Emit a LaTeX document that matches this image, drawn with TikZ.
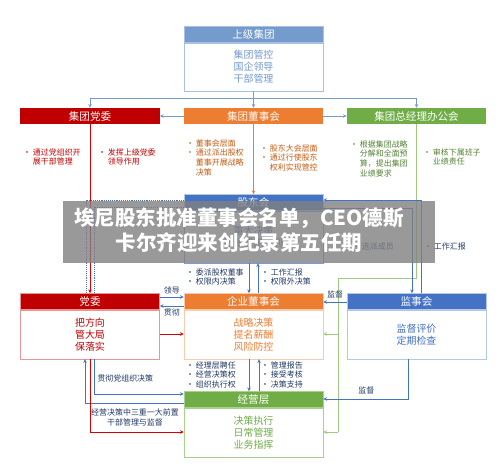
\documentclass[tikz,border=0pt]{standalone}
\usepackage{fontspec}
\setmainfont{Noto Sans CJK SC}
\usetikzlibrary{arrows.meta}
\definecolor{topblue}{RGB}{117,155,205}
\definecolor{topline}{RGB}{169,192,228}
\definecolor{dred}{RGB}{192,0,0}
\definecolor{lred}{RGB}{235,150,150}
\definecolor{dorange}{RGB}{237,125,49}
\definecolor{torange}{RGB}{197,90,17}
\definecolor{lorange}{RGB}{248,203,173}
\definecolor{dgreen}{RGB}{112,173,71}
\definecolor{tgreen}{RGB}{84,130,53}
\definecolor{lgreen}{RGB}{169,209,142}
\definecolor{dblue}{RGB}{68,114,196}
\definecolor{lblue}{RGB}{180,199,231}
\definecolor{navy}{RGB}{32,56,100}
\definecolor{bangray}{RGB}{128,128,128}
\newcommand{\blist}[1]{\begin{tabular}{@{}p{2.9mm}@{}l@{}}#1\end{tabular}}
\tikzset{
  head/.style={minimum width=4.17cm,minimum height=0.48cm,inner sep=0pt,
    text=white,font=\fontsize{9}{10}\selectfont},
  body/.style={minimum width=4.17cm,inner sep=0pt,align=center,anchor=north,
    fill=white,font=\fontsize{8.5}{10.4}\selectfont},
  bul/.style={anchor=north west,inner sep=0pt,font=\fontsize{6.8}{8.3}\selectfont},
  lbl/.style={text=navy,inner sep=1pt,font=\fontsize{6.8}{8.3}\selectfont,align=center},
  bline/.style={draw=dblue,line width=0.6pt},
  tline/.style={draw=topblue,line width=0.6pt},
  rline/.style={draw=red!85!black,line width=0.6pt},
  oline/.style={draw=dorange,line width=0.6pt},
  gline/.style={draw=lgreen!80!dgreen,line width=0.6pt}
}
\begin{document}
\begin{tikzpicture}[x=0.03cm,y=-0.03cm,>={Stealth[length=3.2pt,width=3pt]}]
\useasboundingbox (0,0) rectangle (500,465);
% upper level
\node(sj) at (253.5,34.5)[head,fill=topblue,draw=topline]{上级集团};
\node(sjb) at (sj.south)[body,draw=topline,text=topblue,minimum height=1.44cm]{集团管控\\国企领导\\干部管理};
\node(jdw) at (90,116)[head,fill=dred]{集团党委};
\node(jdsh) at (253.5,116)[head,fill=dorange]{集团董事会};
\node(jzj) at (416.5,116)[head,fill=dgreen]{集团总经理办公会};
% middle
\node(gdh) at (253.5,202.5)[head,fill=dblue,draw=lblue]{股东会};
\node(gdhb) at (gdh.south)[body,draw=dblue!70,text=dblue,minimum height=1.56cm]{重大决策\\行使股东权利};
% company level
\node(dw) at (90,301.5)[head,fill=dred,draw=lred]{党委};
\node(dwb) at (dw.south)[body,draw=lred,text=dred,minimum height=1.47cm]{把方向\\管大局\\保落实};
\node(qdsh) at (253.5,301.5)[head,fill=dorange,draw=lorange]{企业董事会};
\node(qdshb) at (qdsh.south)[body,draw=lorange,text=dorange,minimum height=1.47cm]{战略决策\\提名薪酬\\风险防控};
\node(jsh) at (416.5,301.5)[head,fill=dblue,draw=lblue]{监事会};
\node(jshb) at (jsh.south)[body,draw=lblue,text=dblue,minimum height=1.47cm]{监督评价\\定期检查};
\node(jyc) at (253.5,399.5)[head,fill=dgreen,draw=lgreen]{经营层};
\node(jycb) at (jyc.south)[body,draw=lgreen,text=dgreen,minimum height=1.47cm]{决策执行\\日常管理\\业务指挥};
% bullets
\node(b1) at (23,148)[bul,text=dred]{\blist{•&通过党组织开\\&展干部管理}};
\node(b2) at (98,148)[bul,text=dred]{\blist{•&发挥上级党委\\&领导作用}};
\node(b3) at (186,139)[bul,text=torange]{\blist{•&董事会层面\\•&通过派出股权\\&董事开展战略\\&决策}};
\node(b4) at (260,144)[bul,text=torange]{\blist{•&股东大会层面\\•&通过行使股东\\&权利实现管控}};
\node(b5) at (350,140)[bul,text=tgreen]{\blist{•&根据集团战略\\&分解和全面预\\&算，提出集团\\&业绩要求}};
\node(b6) at (423,148)[bul,text=tgreen]{\blist{•&审核下属班子\\&业绩责任}};
\node(b7) at (352,242)[bul,text=navy]{\blist{•&选派成员}};
\node(b8) at (424,242)[bul,text=navy]{\blist{•&工作汇报}};
\node(b9) at (186,268)[bul,text=navy]{\blist{•&委派股权董事\\•&权限内决策}};
\node(b10) at (261,268)[bul,text=navy]{\blist{•&工作汇报\\•&权限外决策}};
\node(b11) at (186,361)[bul,text=navy]{\blist{•&经理层聘任\\•&经营决策权\\•&组织执行权}};
\node(b12) at (261,361)[bul,text=navy]{\blist{•&管理报告\\•&接受考核\\•&决策支持}};
% connectors, top
\coordinate(tbus) at (253.5,98);
\draw[tline,->] (sjb.south) -- (jdsh.north);
\draw[tline,->] (tbus) -| (jdw.north);
\draw[tline,->] (tbus) -| (jzj.north);
\draw[tline,->] (jdsh.west) -- (jdw.east);
\draw[tline,->] (jdsh.east) -- (jzj.west);
\draw[rline,->] (jdw.south) -- (dw.north);
\draw[oline,->] (jdsh.south) -- (gdh.north);
% green bus
\coordinate(gbus) at (338,278);
\draw[gline] (jzj.south) |- (gbus) -- (gbus |- 0,432);
\draw[gline,->] (gbus |- 0,334) -- (qdshb.east |- 0,334);
\draw[gline,->] (gbus |- 0,432) -- (jycb.east |- 0,432);
% shareholders
\draw[bline,->] (jsh.north -| 421,0) |- (gdh.east |- 0,200);
\draw[bline,->] (gdh.east |- 0,208) -| (jsh.north -| 412,0);
\draw[bline,densely dotted] (gdh.west |- 0,200) -| (dw.north -| 86,0);
\draw[bline,densely dotted] (gdh.west |- 0,207) -| (dw.north -| 94,0);
\draw[bline,->] (gdhb.south -| 249,0) -- (qdsh.north -| 249,0);
\draw[bline,->] (qdsh.north -| 258,0) -- (gdhb.south -| 258,0);
% company
\draw[bline,->] (dw.east |- 0,297) -- (qdsh.west |- 0,297) node[midway,above=1pt,lbl]{领导};
\draw[bline,->] (qdsh.west |- 0,306) -- (dw.east |- 0,306) node[midway,below=1pt,lbl]{贯彻};
\draw[rline,->] (dwb.east |- 0,334) -- (qdshb.west |- 0,334);
\draw[bline,->] (jsh.west |- 0,302) -- (qdsh.east |- 0,302) node[midway,above=2pt,lbl]{监督};
\draw[bline,->] (qdshb.south -| 249,0) -- (jyc.north -| 249,0);
\draw[bline,->] (jyc.north -| 259,0) -- (qdshb.south -| 259,0);
% management
\draw[bline,->] (jyc.west |- 0,403) -| (dwb.south -| 85,0);
\draw[bline,->] (dwb.south -| 94,0) |- (jyc.west |- 0,394);
\draw[rline,->] (dwb.south) |- (jycb.west |- 0,432);
\draw[bline,->] (jshb.south -| 408,0) |- (jyc.east |- 0,399);
\node(l1) at (96,378)[lbl,anchor=west]{贯彻党组织决策};
\node(l2) at (135,417.5)[lbl]{经营决策中三重一大前置\\干部管理与监督};
\node(l3) at (357,390)[lbl,anchor=west]{监督};
% title banner
\node(ban) at (249,232)[fill=bangray,fill opacity=0.8,minimum width=11.16cm,minimum height=1.86cm,inner sep=0pt]{};
\node(ttl) at (239,230.5)[text=white,align=center,font=\fontsize{17.5}{21.3}\selectfont\bfseries]{埃尼股东批准董事会名单，CEO德斯\\卡尔齐迎来创纪录第五任期};
\end{tikzpicture}
\end{document}
